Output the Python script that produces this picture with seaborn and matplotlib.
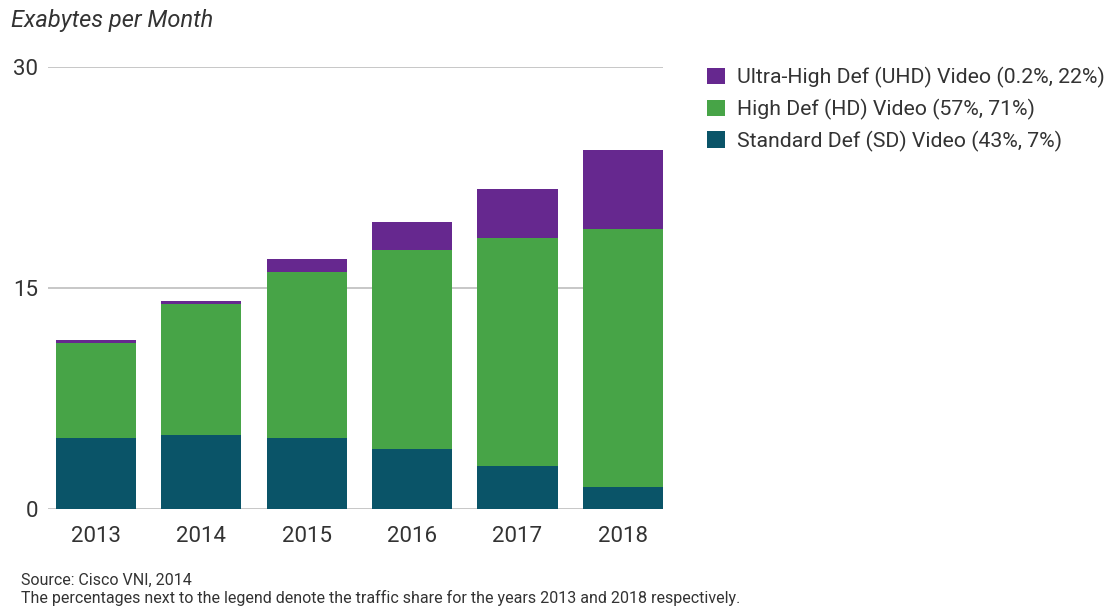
import numpy as np
import pandas as pd
import matplotlib
matplotlib.use("Agg")
import matplotlib.pyplot as plt
from matplotlib.patches import Patch
import seaborn as sns

years = ["2013", "2014", "2015", "2016", "2017", "2018"]
sd_values = [4.85, 5.05, 4.85, 4.10, 2.95, 1.50]
hd_values = [6.45, 8.85, 11.25, 13.50, 15.45, 17.50]
uhd_values = [0.20, 0.25, 0.85, 1.85, 3.35, 5.35]
series_labels = [
    "Ultra-High Def (UHD) Video (0.2%, 22%)",
    "High Def (HD) Video (57%, 71%)",
    "Standard Def (SD) Video (43%, 7%)",
]
y_ticks = [0, 15, 30]

c_uhd = "#66288f"
c_hd = "#47a447"
c_sd = "#0a5468"
txt = "#333333"

sns.set_theme(style="white")
plt.rcParams["font.family"] = ["Roboto", "DejaVu Sans"]

fig = plt.figure(figsize=(11.19, 6.11), dpi=100)
ax = fig.add_axes([48 / 1119, 1 - 509 / 611, (663 - 48) / 1119, (509 - 67) / 611])

sd = np.array(sd_values)
hd_top = sd + np.array(hd_values)
uhd_top = hd_top + np.array(uhd_values)

df = pd.DataFrame({"year": years, "sd": sd, "hd": hd_top, "uhd": uhd_top})

for col, colr in [("uhd", c_uhd), ("hd", c_hd), ("sd", c_sd)]:
    sns.barplot(data=df, x="year", y=col, color=colr, width=0.76,
                saturation=1, ax=ax, zorder=3, edgecolor="none")

ax.set_ylim(0, 30)
ax.set_xlim(-0.455, 5.38)
ax.set_yticks(y_ticks)
ax.set_yticklabels([str(t) for t in y_ticks])
ax.set_xlabel("")
ax.set_ylabel("")
ax.grid(axis="y", color="#bdbdbd", linewidth=1.2, zorder=0)
ax.grid(axis="x", visible=False)
for s in ax.spines.values():
    s.set_visible(False)
ax.tick_params(axis="both", length=0, labelsize=16, colors=txt)
ax.tick_params(axis="x", pad=12)
ax.tick_params(axis="y", pad=7)

fig.text(11 / 1119, 1 - 21 / 611, "Exabytes per Month", fontsize=17,
         style="italic", color=txt, va="center", ha="left")

handles = [Patch(facecolor=c, edgecolor="none") for c in (c_uhd, c_hd, c_sd)]
fig.legend(handles, series_labels, loc="upper left",
           bbox_to_anchor=(707 / 1119, 1 - 67 / 611), frameon=False,
           fontsize=15.3, handlelength=0.85, handleheight=0.8,
           handletextpad=0.55, labelspacing=0.5, borderpad=0,
           borderaxespad=0, labelcolor=txt)

fig.text(21 / 1119, 1 - 580 / 611, "Source: Cisco VNI, 2014", fontsize=11.5,
         color=txt, va="center", ha="left")
fig.text(21 / 1119, 1 - 598 / 611,
         "The percentages next to the legend denote the traffic share for the years 2013 and 2018 respectively.",
         fontsize=11.5, color=txt, va="center", ha="left")

fig.savefig("out.png", dpi=100, facecolor="white")
